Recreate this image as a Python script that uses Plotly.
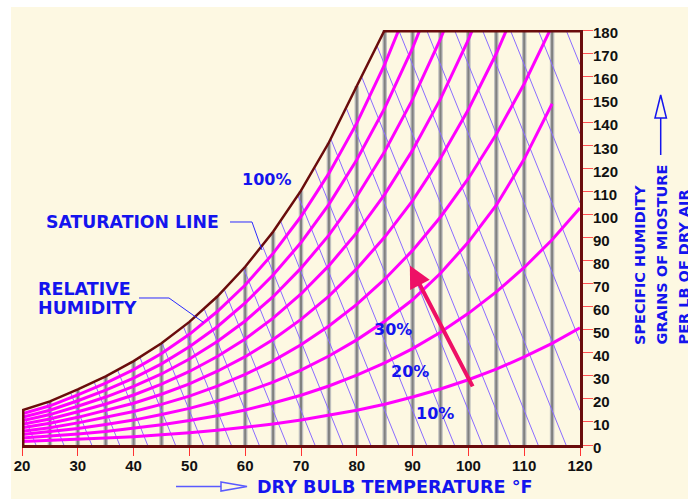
import plotly.graph_objects as go
import numpy as np

# ---------------- data ----------------
temps = [20, 25, 30, 35, 40, 45, 50, 55, 60, 65, 70, 75, 80, 85, 90, 95, 100, 105, 110, 115, 120]

# saturation (100 %) line, grains per lb
sat_T = [20, 25, 30, 35, 40, 45, 50, 55, 60, 65, 70, 75, 80, 85]
sat_H = [15.0, 18.9, 24.1, 29.8, 36.4, 44.1, 53.4, 64.4, 77.3, 92.5, 110.3, 131.2, 155.7, 180.0]

rh_labels = ["10%", "20%", "30%", "40%", "50%", "60%", "70%", "80%", "90%"]
rh10 = [1.5, 1.9, 2.4, 3.0, 3.6, 4.4, 5.3, 6.4, 7.6, 9.1, 10.8, 12.8, 15.1, 17.7, 20.8, 24.3, 28.3, 32.9, 38.2, 44.1, 50.8]
rh20 = [3.0, 3.8, 4.8, 5.9, 7.2, 8.8, 10.6, 12.7, 15.2, 18.2, 21.6, 25.6, 30.3, 35.6, 41.8, 48.9, 57.1, 66.4, 77.0, 89.0, 102.8]
rh30 = [4.5, 5.7, 7.2, 8.9, 10.8, 13.2, 15.9, 19.1, 22.9, 27.3, 32.5, 38.6, 45.6, 53.7, 63.0, 74.5, 88.0, 104.0, 124.0, 148.0]
rh40 = [6.0, 7.5, 9.6, 11.9, 14.5, 17.6, 21.2, 25.5, 30.6, 36.5, 43.5, 51.6, 61.0, 71.9, 84.4, 98.9, 115.6, 134.8, 156.7, 181.8]
rh50 = [7.5, 9.4, 12.0, 14.9, 18.1, 22.0, 26.5, 32.0, 38.3, 45.8, 54.5, 64.6, 76.5, 90.2, 106.0, 124.4, 145.5, 169.8, 197.7]
rh60 = [9.0, 11.3, 14.4, 17.8, 21.7, 26.4, 31.9, 38.4, 46.0, 55.0, 65.5, 77.8, 92.1, 108.7, 127.9, 150.1, 175.8, 205.3]
rh70 = [10.5, 13.2, 16.8, 20.8, 25.4, 30.8, 37.3, 44.9, 53.8, 64.3, 76.7, 91.0, 107.8, 127.3, 149.9, 176.1, 206.4]
rh80 = [12.0, 15.1, 19.2, 23.8, 29.0, 35.2, 42.6, 51.3, 61.6, 73.7, 87.8, 104.4, 123.7, 146.1, 172.2, 202.5]
rh90 = [13.5, 17.0, 21.7, 26.8, 32.7, 39.7, 48.0, 57.9, 69.4, 83.1, 99.1, 117.8, 139.6, 165.1, 194.7]
rh_series = [rh10, rh20, rh30, rh40, rh50, rh60, rh70, rh80, rh90]

# vertical dry-bulb grid lines
grid_T = [25, 30, 35, 40, 45, 50, 55, 60, 65, 70, 75, 80, 85, 90, 95, 100, 105, 110, 115]

# diagonal (wet-bulb) lines: start and end points
wb_start_T = [20, 24.4, 28.7, 32.9, 37.1, 41.1, 45.1, 48.9, 52.6, 56.2, 59.7, 63.0, 66.3, 69.4, 72.4, 75.3, 78.1, 80.9, 83.6, 87.5, 92.5, 97.5, 102.5, 107.5, 112.5, 117.5]
wb_start_H = [15.0, 18.5, 22.7, 27.5, 32.7, 38.2, 44.2, 51.5, 59.3, 67.7, 76.7, 86.9, 97.4, 108.5, 120.6, 133.0, 146.2, 159.5, 173.2, 180, 180, 180, 180, 180, 180, 180]
wb_end_T = [22.5, 27.5, 32.5, 37.5, 42.5, 47.5, 52.5, 57.5, 62.5, 67.5, 72.5, 77.5, 82.5, 87.5, 92.5, 97.5, 102.5, 107.5, 112.5, 117.5, 120, 120, 120, 120, 120, 120]
wb_end_H = [0, 0, 0, 0, 0, 0, 0, 0, 0, 0, 0, 0, 0, 0, 0, 0, 0, 0, 0, 0, 15, 45, 75, 105, 135, 165]

# process arrow (tail -> tip)
arrow_tail = [100.9, 24.8]
arrow_tip = [89.5, 77.9]

x_ticks = [20, 30, 40, 50, 60, 70, 80, 90, 100, 110, 120]
y_ticks = list(range(0, 181, 10))

# ---------------- styling ----------------
CREAM = "#fdf8e2"
BROWN = "#6a0c0c"
MAGENTA = "#ff00ff"
VIOLET = "#8a6cff"
BLUE = "#1414ee"
W, H = 688, 499
ML, MR, MT, MB = 22, 108, 30, 54
PW, PH = W - ML - MR, H - MT - MB


def pxx(x):
    return (x - ML) / PW


def pxy(y):
    return (H - MB - y) / PH


fig = go.Figure()

# gray vertical lines (to the saturation curve / top)
gx, gy = [], []
for t in grid_T:
    top = min(float(np.interp(t, sat_T, sat_H)) if t <= sat_T[-1] else 180.0, 180.0)
    gx += [t, t, None]
    gy += [0, top, None]
fig.add_trace(go.Scatter(x=gx, y=gy, mode="lines", line=dict(color="#bdbdbd", width=4.5), hoverinfo="skip"))
fig.add_trace(go.Scatter(x=gx, y=gy, mode="lines", line=dict(color="#808080", width=2), hoverinfo="skip"))

# diagonal lines
dx, dy = [], []
for a, b, c, d in zip(wb_start_T, wb_start_H, wb_end_T, wb_end_H):
    dx += [a, c, None]
    dy += [b, d, None]
fig.add_trace(go.Scatter(x=dx, y=dy, mode="lines", line=dict(color=VIOLET, width=1), hoverinfo="skip"))

# relative humidity curves
for name, vals in zip(rh_labels, rh_series):
    fig.add_trace(go.Scatter(x=temps[:len(vals)], y=vals, mode="lines", name=name,
                             line=dict(color=MAGENTA, width=3), hoverinfo="skip"))

# saturation line and frame pieces
fig.add_trace(go.Scatter(x=sat_T, y=sat_H, mode="lines", line=dict(color=BROWN, width=2.5), hoverinfo="skip"))
fig.add_trace(go.Scatter(x=[sat_T[-1], 120], y=[180, 180], mode="lines", line=dict(color=BROWN, width=5), hoverinfo="skip"))
fig.add_trace(go.Scatter(x=[20, 20], y=[0, sat_H[0]], mode="lines", line=dict(color=BROWN, width=5), hoverinfo="skip"))

# process arrow
fig.add_annotation(x=arrow_tip[0], y=arrow_tip[1], ax=arrow_tail[0], ay=arrow_tail[1],
                   xref="x", yref="y", axref="x", ayref="y", text="", showarrow=True,
                   arrowhead=2, arrowsize=1.1, arrowwidth=4, arrowcolor="#ee1166", standoff=0)

FONT = "DejaVu Sans"


def label(text, x, y, size=16, xanchor="center", yanchor="middle", angle=0):
    fig.add_annotation(x=pxx(x), y=pxy(y), xref="paper", yref="paper", text=text, showarrow=False,
                       xanchor=xanchor, yanchor=yanchor, textangle=angle,
                       font=dict(family=FONT, size=size, color=BLUE, weight="bold"))


label("100%", 266, 179)
label("SATURATION LINE", 132.5, 222, size=17.3)
label("RELATIVE", 36, 288.5, size=17.5, xanchor="left")
label("HUMIDITY", 36, 308, size=17.5, xanchor="left")
label("30%", 393, 329)
label("20%", 410, 371)
label("10%", 435, 413)
label("DRY BULB TEMPERATURE °F", 255, 486.5, size=17.6, xanchor="left")
label("SPECIFIC HUMIDITY", 640, 347, size=14.5, yanchor="bottom", angle=-90)
label("GRAINS OF MIOSTURE", 661.5, 347, size=14.5, yanchor="bottom", angle=-90)
label("PER LB OF DRY AIR", 683, 347, size=14.5, yanchor="bottom", angle=-90)

# leader lines
shapes = []


def seg(pts, color="#2a2aff", width=1):
    path = "M " + " L ".join(f"{pxx(a):.5f},{pxy(b):.5f}" for a, b in pts)
    shapes.append(dict(type="path", xref="paper", yref="paper", path=path,
                       line=dict(color=color, width=width)))


seg([(230, 222), (252, 222), (262, 250)])
seg([(139, 298), (169, 298), (203.5, 322.5)])

# bottom hollow arrow
seg([(176, 486.5), (221, 486.5)], color="#5a5aff", width=1.5)
shapes.append(dict(type="path", xref="paper", yref="paper",
                   path=f"M {pxx(221):.5f},{pxy(482):.5f} L {pxx(247):.5f},{pxy(486.5):.5f} L {pxx(221):.5f},{pxy(491):.5f} Z",
                   line=dict(color="#5a5aff", width=1.5), fillcolor=CREAM))
# right hollow arrow
seg([(660.7, 155), (660.7, 118)], color=BLUE, width=1.5)
shapes.append(dict(type="path", xref="paper", yref="paper",
                   path=f"M {pxx(655):.5f},{pxy(118):.5f} L {pxx(660.7):.5f},{pxy(95):.5f} L {pxx(666.4):.5f},{pxy(118):.5f} Z",
                   line=dict(color=BLUE, width=1.5), fillcolor=CREAM))
# white margins at top-left of the picture
shapes.append(dict(type="rect", xref="paper", yref="paper", x0=pxx(-5), x1=pxx(11), y0=pxy(505), y1=pxy(-5),
                   line=dict(width=0), fillcolor="white", layer="below"))
shapes.append(dict(type="rect", xref="paper", yref="paper", x0=pxx(-5), x1=pxx(700), y0=pxy(7), y1=pxy(-5),
                   line=dict(width=0), fillcolor="white", layer="below"))

TICKFONT = dict(family="Liberation Sans", size=15, color="#111111", weight="bold")

fig.update_layout(
    width=W, height=H, autosize=False,
    margin=dict(l=ML, r=MR, t=MT, b=MB, pad=0),
    paper_bgcolor=CREAM, plot_bgcolor=CREAM,
    showlegend=False,
    shapes=shapes,
    xaxis=dict(range=[20, 120], tickvals=x_ticks, ticktext=[str(v) for v in x_ticks],
               showgrid=False, zeroline=False, showline=True, linecolor=BROWN, linewidth=3,
               ticks="outside", ticklen=8, tickwidth=1.2, tickcolor="#ff3333",
               tickfont=TICKFONT, ticklabelstandoff=-3, fixedrange=True),
    yaxis=dict(range=[0, 180], side="right", tickvals=y_ticks, ticktext=[str(v) for v in y_ticks],
               showgrid=False, zeroline=False, showline=True, linecolor=BROWN, linewidth=3,
               ticks="outside", ticklen=10, tickwidth=1.2, tickcolor="#ff5050",
               tickfont=TICKFONT, ticklabelshift=3, ticklabelstandoff=-3, fixedrange=True),
)

fig.write_html("out.html", config={"displayModeBar": False},
               post_script="document.body.style.margin='0px';document.body.style.overflow='hidden';")
